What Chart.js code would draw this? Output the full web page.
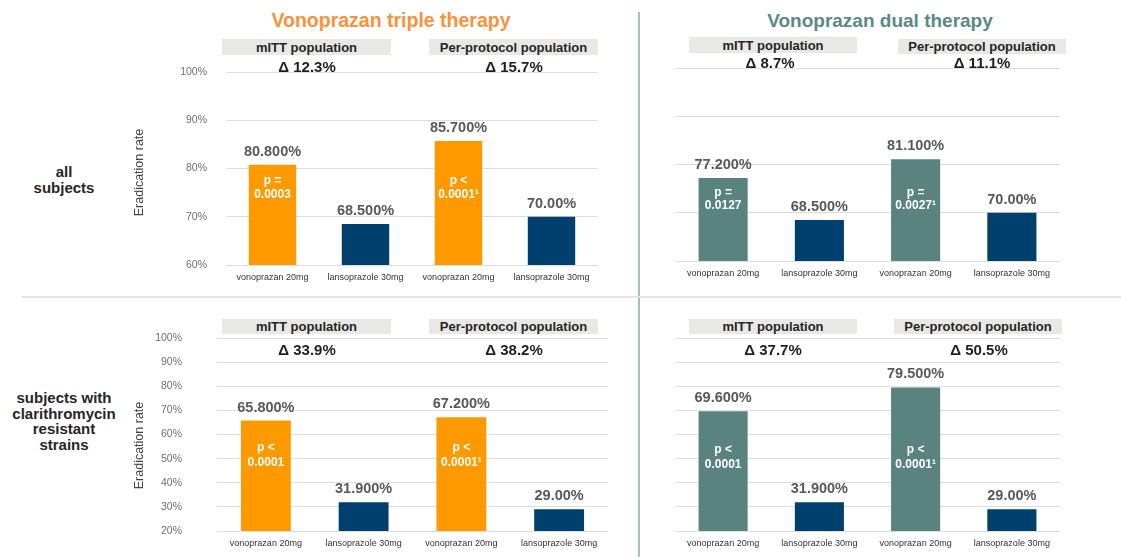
<!DOCTYPE html>
<html>
<head>
<meta charset="utf-8">
<script src="https://cdn.jsdelivr.net/npm/chart.js@4.4.1/dist/chart.umd.min.js"></script>
<style>
  body { margin: 0; width: 1121px; height: 557px; background: #fff; overflow: hidden; position: relative;
         font-family: "Liberation Sans", Arial, sans-serif; }
  .abs { position: absolute; }
  .mid { position: absolute; transform: translate(-50%, -50%); white-space: nowrap; font-weight: bold; text-align: center; z-index: 2; }
  .box { position: absolute; background: #e8e8e5; color: #262626; font-weight: bold; font-size: 13px;
         display: flex; align-items: center; justify-content: center; white-space: nowrap; }
  .delta { font-size: 15px; color: #1f1f1f; }
  .chartbox { position: absolute; z-index: 1; }
</style>
</head>
<body>

<!-- dividers -->
<div class="abs" style="left:638px;top:12px;width:2px;height:545px;background:#a2bcd6"></div>
<div class="abs" style="left:22px;top:296px;width:1099px;height:2px;background:#e3e3e3"></div>

<!-- titles -->
<div class="mid" style="left:391px;top:20px;font-size:19.5px;color:#f7923d">Vonoprazan triple therapy</div>
<div class="mid" style="left:880px;top:21px;font-size:19px;color:#5b8986">Vonoprazan dual therapy</div>

<!-- row labels -->
<div class="mid" style="left:64px;top:180px;font-size:15px;color:#262626;line-height:16px">all<br>subjects</div>
<div class="mid" style="left:64px;top:421px;font-size:15px;color:#262626;line-height:15.5px">subjects with<br>clarithromycin<br>resistant<br>strains</div>

<!-- population boxes -->
<div class="box" style="left:222px;top:39px;width:169px;height:16px">mITT population</div>
<div class="box" style="left:429px;top:39px;width:169px;height:16px">Per-protocol population</div>
<div class="box" style="left:689px;top:37px;width:168px;height:16px">mITT population</div>
<div class="box" style="left:898px;top:39px;width:168px;height:15px">Per-protocol population</div>
<div class="box" style="left:222px;top:319px;width:169px;height:15px">mITT population</div>
<div class="box" style="left:429px;top:319px;width:169px;height:15px">Per-protocol population</div>
<div class="box" style="left:689px;top:319px;width:168px;height:15px">mITT population</div>
<div class="box" style="left:894px;top:319px;width:168px;height:15px">Per-protocol population</div>

<div id="deltas"></div>

<div class="chartbox" style="left:128px;top:60px;width:482px;height:230px"><canvas id="c1"></canvas></div>
<div class="chartbox" style="left:660px;top:56px;width:412px;height:230px"><canvas id="c2"></canvas></div>
<div class="chartbox" style="left:128px;top:326px;width:492px;height:230px"><canvas id="c3"></canvas></div>
<div class="chartbox" style="left:660px;top:326px;width:412px;height:230px"><canvas id="c4"></canvas></div>

<script>
// ---- data ----
const categories = ['vonoprazan 20mg', 'lansoprazole 30mg', 'vonoprazan 20mg', 'lansoprazole 30mg'];

const tripleAll = [80.8, 68.5, 85.7, 70.0];
const dualAll = [77.2, 68.5, 81.1, 70.0];
const tripleResistant = [65.8, 31.9, 67.2, 29.0];
const dualResistant = [69.6, 31.9, 79.5, 29.0];

const tripleAllText = ['80.800%', '68.500%', '85.700%', '70.00%'];
const dualAllText = ['77.200%', '68.500%', '81.100%', '70.00%'];
const tripleResistantText = ['65.800%', '31.900%', '67.200%', '29.00%'];
const dualResistantText = ['69.600%', '31.900%', '79.500%', '29.00%'];

const tripleAllP = [['p =', '0.0003'], null, ['p <', '0.0001\u00b9'], null];
const dualAllP = [['p =', '0.0127'], null, ['p =', '0.0027\u00b9'], null];
const tripleResistantP = [['p <', '0.0001'], null, ['p <', '0.0001\u00b9'], null];
const dualResistantP = [['p <', '0.0001'], null, ['p <', '0.0001\u00b9'], null];

const tripleAllDelta = ['\u0394 12.3%', '\u0394 15.7%'];
const dualAllDelta = ['\u0394 8.7%', '\u0394 11.1%'];
const tripleResistantDelta = ['\u0394 33.9%', '\u0394 38.2%'];
const dualResistantDelta = ['\u0394 37.7%', '\u0394 50.5%'];

const allTicks = [60, 70, 80, 90, 100];
const resistantTicks = [20, 30, 40, 50, 60, 70, 80, 90, 100];

const ORANGE = '#ff9900';
const TEAL = '#5a8380';
const NAVY = '#00406e';
const FONT = '"Liberation Sans", Arial, sans-serif';

// ---- delta labels (html) ----
function addDeltas(texts, xs, y) {
  const host = document.getElementById('deltas');
  texts.forEach((t, i) => {
    const d = document.createElement('div');
    d.className = 'mid delta';
    d.style.left = xs[i] + 'px';
    d.style.top = y + 'px';
    d.textContent = t;
    host.appendChild(d);
  });
}
addDeltas(tripleAllDelta, [307, 514], 66);
addDeltas(dualAllDelta, [770, 982], 62);
addDeltas(tripleResistantDelta, [307, 514], 349);
addDeltas(dualResistantDelta, [773, 979], 349);

// ---- value labels, p-values, category labels, axis title ----
function barLabels(cfg) {
  return {
    id: 'barLabels',
    afterDraw(chart) {
      const ctx = chart.ctx;
      const area = chart.chartArea;
      const xScale = chart.scales.x;
      const yScale = chart.scales.y;
      ctx.save();
      ctx.textAlign = 'center';
      ctx.textBaseline = 'middle';
      chart.getDatasetMeta(0).data.forEach((bar, i) => {
        ctx.font = 'bold 14.5px ' + FONT;
        ctx.fillStyle = '#595959';
        ctx.fillText(cfg.texts[i], bar.x, bar.y - 13);

        const p = cfg.pvals[i];
        if (p) {
          const cy = yScale.getPixelForValue(cfg.pAt);
          ctx.font = 'bold 12px ' + FONT;
          ctx.fillStyle = '#ffffff';
          ctx.fillText(p[0], bar.x, cy - cfg.pGap / 2);
          ctx.fillText(p[1], bar.x, cy + cfg.pGap / 2);
        }

        ctx.font = '9px ' + FONT;
        ctx.fillStyle = '#333333';
        ctx.fillText(categories[i], xScale.getPixelForTick(i), area.bottom + 13);
      });

      if (cfg.showY) {
        ctx.font = '12.5px ' + FONT;
        ctx.fillStyle = '#444444';
        ctx.translate(12, (area.top + area.bottom) / 2 + cfg.titleShift);
        ctx.rotate(-Math.PI / 2);
        ctx.fillText('Eradication rate', 0, 0);
      }
      ctx.restore();
    }
  };
}

function makeChart(id, cfg) {
  const ctx = document.getElementById(id).getContext('2d');
  return new Chart(ctx, {
    type: 'bar',
    data: {
      labels: categories,
      datasets: [{
        data: cfg.values,
        backgroundColor: cfg.values.map((v, i) => i % 2 === 0 ? cfg.color : NAVY),
        barPercentage: 0.51,
        categoryPercentage: 1
      }]
    },
    options: {
      responsive: true,
      maintainAspectRatio: false,
      animation: false,
      layout: { padding: { top: 12, right: 12, left: 0, bottom: 0 } },
      plugins: { legend: { display: false }, tooltip: { enabled: false } },
      scales: {
        x: {
          grid: { display: false },
          border: { display: false },
          ticks: { display: false },
          afterFit: s => { s.height = 25; s.paddingLeft = 0; s.paddingRight = 0; }
        },
        y: {
          min: cfg.ticks[0],
          max: cfg.ticks[cfg.ticks.length - 1],
          border: { display: false },
          grid: { color: '#dedede', lineWidth: 1, drawTicks: false },
          afterBuildTicks: s => { s.ticks = cfg.ticks.map(v => ({ value: v })); },
          ticks: {
            display: cfg.showY,
            color: '#707070',
            font: { family: FONT, size: 10.5 },
            padding: cfg.tickPad,
            callback: v => v + '%'
          },
          afterFit: s => { s.width = cfg.yWidth; s.paddingTop = 0; s.paddingBottom = 0; }
        }
      }
    },
    plugins: [barLabels(cfg)]
  });
}

makeChart('c1', { values: tripleAll, texts: tripleAllText, pvals: tripleAllP, color: ORANGE,
  ticks: allTicks, showY: true, yWidth: 98, tickPad: 19, pAt: 76, pGap: 13.5, titleShift: 4 });
makeChart('c2', { values: dualAll, texts: dualAllText, pvals: dualAllP, color: TEAL,
  ticks: allTicks, showY: false, yWidth: 15, tickPad: 0, pAt: 72.8, pGap: 13.5, titleShift: 0 });
makeChart('c3', { values: tripleResistant, texts: tripleResistantText, pvals: tripleResistantP, color: ORANGE,
  ticks: resistantTicks, showY: true, yWidth: 89, tickPad: 35, pAt: 51.5, pGap: 15, titleShift: 11 });
makeChart('c4', { values: dualResistant, texts: dualResistantText, pvals: dualResistantP, color: TEAL,
  ticks: resistantTicks, showY: false, yWidth: 15, tickPad: 0, pAt: 50.8, pGap: 15, titleShift: 0 });
</script>
</body>
</html>
